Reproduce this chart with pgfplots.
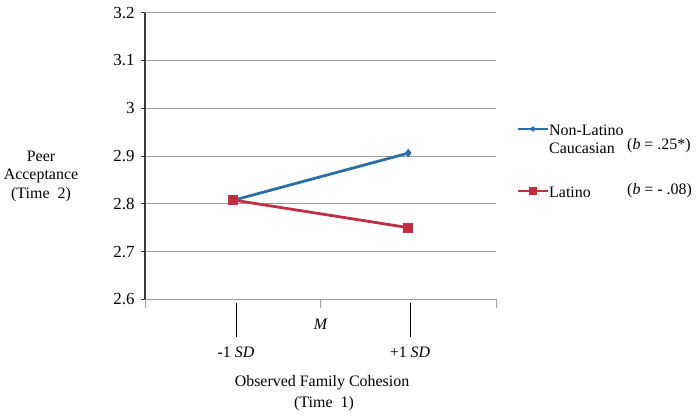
\documentclass[border=0pt]{standalone}
\usepackage{pgfplots}
\pgfplotsset{compat=1.18}
\usetikzlibrary{shapes.geometric}
\usepackage{fontspec}
\setmainfont{Liberation Serif}
\definecolor{cblue}{RGB}{46,110,166}
\definecolor{cred}{RGB}{190,48,70}
\definecolor{cgrid}{RGB}{160,160,160}
\definecolor{caxis}{RGB}{60,60,60}
\begin{document}
\begin{tikzpicture}[x=1bp,y=1bp]
\useasboundingbox (0,0) rectangle (700,418);
\begin{axis}[
  at={(145bp,118.7bp)}, anchor=south west,
  scale only axis, width=351bp, height=286.6bp,
  xmin=-2, xmax=2, ymin=2.6, ymax=3.2,
  ytick={2.6,2.7,2.8,2.9,3.0,3.1,3.2},
  xtick=\empty,
  axis x line*=bottom, axis y line*=left,
  x axis line style={draw=cgrid, line width=1bp, -},
  y axis line style={draw=caxis, line width=1.3bp, -},
  ytick style={draw=caxis, line width=1bp},
  tick align=outside,
  major tick length=4bp,
  ymajorgrids, grid style={draw=cgrid, line width=1bp},
  /pgf/number format/assume math mode=true,
  yticklabel style={font=\fontsize{17}{20}\selectfont, xshift=-3bp},
  clip=false,
]
\addplot[color=cblue, line width=2.8bp, mark=diamond*, mark size=3.5bp, mark options={fill=cblue, line width=1bp}] coordinates {(-1,2.807) (1,2.906)};
\addplot[color=cred, line width=2.8bp, mark=square*, mark size=4.5bp, mark options={fill=cred!90!red, line width=1bp}] coordinates {(-1,2.808) (1,2.750)};
\end{axis}
% x-axis ticks
\draw[line width=1bp, cgrid] (145,118.7) -- (145,109.7);
\draw[line width=1bp, cgrid] (320.5,118.7) -- (320.5,109.7);
\draw[line width=1bp, cgrid] (496,118.7) -- (496,109.7);
% x-axis annotation lines
\draw[line width=1bp, black] (236,{418-303}) -- (236,{418-337});
\draw[line width=1bp, black] (410,{418-303}) -- (410,{418-337});
\begin{scope}[every node/.style={font=\fontsize{16}{19}\selectfont, inner sep=0pt}]
\node at (321,{418-324}) {\textit{M}};
\node at (236,{418-352}) {-1 \textit{SD}};
\node at (410,{418-352}) {+1 \textit{SD}};
\node at (322,{418-383}) {Observed Family Cohesion};
\node at (324,{418-404}) {(Time\ \ 1)};
\node at (41,{418-156}) {Peer};
\node at (41,{418-176}) {Acceptance};
\node at (41,{418-195}) {(Time\ \ 2)};
% legend
\draw[cblue, line width=2.8bp] (518,{418-129}) -- (548,{418-129});
\node[draw=none, fill=cblue, diamond, minimum size=6bp, inner sep=0pt] at (533,{418-129}) {};
\draw[cred, line width=2.8bp] (518,{418-191}) -- (548,{418-191});
\node[fill=cred!90!red, minimum size=8bp, inner sep=0pt] at (533,{418-191}) {};
\node[anchor=west] at (549,{418-130}) {Non-Latino};
\node[anchor=west] at (549,{418-148}) {Caucasian};
\node[anchor=west] at (627,{418-146}) {(\textit{b} = .25*)};
\node[anchor=west] at (549,{418-192}) {Latino};
\node[anchor=west] at (627,{418-191}) {(\textit{b} = - .08)};
\end{scope}
\end{tikzpicture}
\end{document}
